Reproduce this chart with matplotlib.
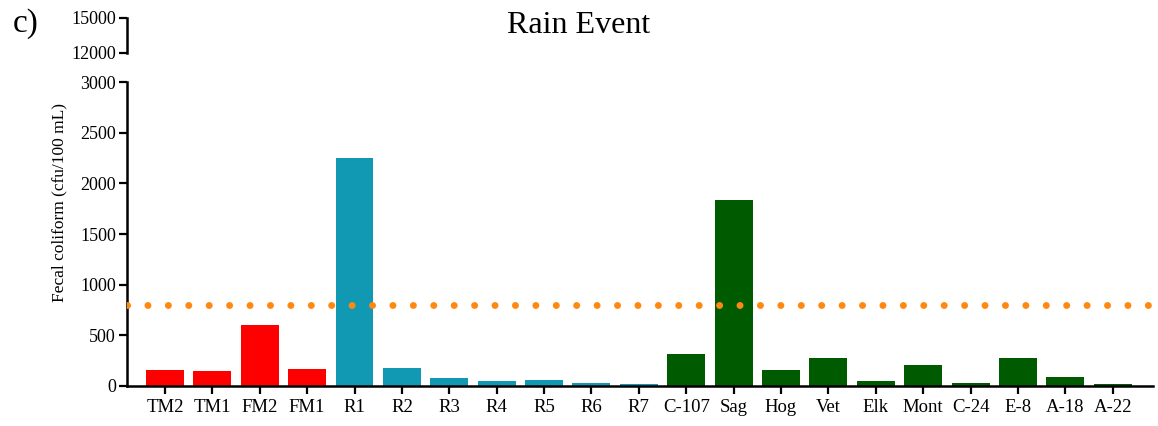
import matplotlib
matplotlib.use("Agg")
from matplotlib import pyplot as plt

sites = ["TM2", "TM1", "FM2", "FM1", "R1", "R2", "R3", "R4", "R5", "R6", "R7",
         "C-107", "Sag", "Hog", "Vet", "Elk", "Mont", "C-24", "E-8", "A-18", "A-22"]
coliform = [155, 145, 600, 165, 2250, 175, 76, 50, 60, 27, 17,
            315, 1840, 158, 276, 46, 207, 27, 276, 86, 23]
groups = ["farm"] * 4 + ["river"] * 7 + ["creek"] * 10
group_colors = {"farm": "#FF0000", "river": "#1199B4", "creek": "#005A00"}
limit = 800

plt.rcParams["font.family"] = ["Liberation Serif", "DejaVu Serif"]

fig = plt.figure(figsize=(11.58, 4.26), dpi=100)
ax = fig.add_axes([0.1097, 0.0939, 0.886, 0.7136])
ax_top = fig.add_axes([0.1097, 0.8756, 0.886, 0.0822])

x = range(len(sites))
ax.bar(x, coliform, width=0.8, color=[group_colors[g] for g in groups], zorder=2)
ax.axhline(limit, color="#FF8811", lw=5, linestyle=(0, (0.01, 2.93)),
           dash_capstyle="round", zorder=3)

ax.set_xlim(-0.8, 20.85)
ax.set_ylim(0, 3000)
ax.set_yticks(range(0, 3001, 500))
ax.set_xticks(list(x))
ax.set_xticklabels(sites, fontsize=13.5)
ax.tick_params(axis="y", labelsize=13, width=1.6, length=6, direction="out", pad=2)
ax.tick_params(axis="x", width=1.6, length=6, direction="out")
for s in ["top", "right"]:
    ax.spines[s].set_visible(False)
for s in ["left", "bottom"]:
    ax.spines[s].set_linewidth(1.8)
ax.set_ylabel("Fecal coliform (cfu/100 mL)", fontsize=12.5)
ax.yaxis.set_label_coords(-0.058, 0.605)

# upper segment of the broken y axis
ax_top.set_xlim(-0.8, 20.85)
ax_top.set_ylim(12000, 15000)
ax_top.set_yticks([12000, 15000])
ax_top.set_xticks([])
ax_top.tick_params(axis="y", labelsize=13, width=1.6, length=6, pad=2)
for s in ["top", "right", "bottom"]:
    ax_top.spines[s].set_visible(False)
ax_top.spines["left"].set_linewidth(1.8)
ax_top.patch.set_alpha(0)

fig.text(0.5, 0.94, "Rain Event", ha="center", va="center", fontsize=23)
fig.text(0.011, 0.945, "c)", ha="left", va="center", fontsize=24)

fig.savefig("out.png", dpi=100)
